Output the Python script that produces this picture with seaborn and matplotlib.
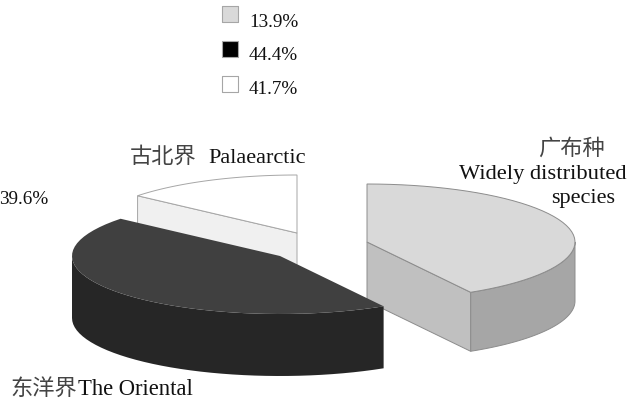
import numpy as np
import pandas as pd
import matplotlib
matplotlib.use("Agg")
import matplotlib.pyplot as plt
import seaborn as sns

# Shares as printed in the key, in key order
key_labels = ["13.9%", "44.4%", "41.7%"]
key_colors = ["#D9D9D9", "#000000", "#FFFFFF"]

# Slices, clockwise from twelve o'clock
slice_names = ["Widely distributed species", "The Oriental", "Palaearctic"]
slice_shares = [41.7, 44.4, 13.9]

sns.set_theme(style="white")
SERIF = ["Liberation Serif", "Noto Sans CJK SC"]

W, H = 637, 401
fig = plt.figure(figsize=(W / 100, H / 100), dpi=100, facecolor="white")
ax = fig.add_axes([0, 0, 1, 1])

# Projection of the tilted pie
RX, RY = 208, 58
centres = [(367, 242), (280, 256), (297, 233)]
depths = [59, 62, 60]
styles = [
    dict(top="#D9D9D9", radial="#C0C0C0", rim="#A6A6A6", edge="#8C8C8C"),
    dict(top="#404040", radial="#262626", rim="#262626", edge="none"),
    dict(top="#FFFFFF", radial="#F0F0F0", rim="#F0F0F0", edge="#A6A6A6"),
]


def project(theta, centre):
    """Map a clockwise angle from the top onto the tilted ellipse."""
    return (centre[0] + RX * np.sin(theta),
            centre[1] - RY * np.cos(theta))


def draw_cut(angle, centre, depth, style, z):
    px, py = project(np.radians(angle), centre)
    ax.fill([centre[0], px, px, centre[0]],
            [centre[1], py, py + depth, centre[1] + depth],
            fc=style["radial"], ec=style["edge"], lw=0.7, zorder=z)


def draw_slice(start, stop, centre, depth, style, z):
    # Outer rim, only where it faces the viewer
    lo, hi = max(start, 90), min(stop, 270)
    if lo < hi:
        fx, fy = project(np.radians(np.linspace(lo, hi, 40)), centre)
        ax.fill(np.r_[fx, fx[::-1]], np.r_[fy, fy[::-1] + depth],
                fc=style["rim"], ec=style["edge"], lw=0.7, zorder=z)

    # A cut face is visible when its outward normal points down the screen
    if 180 < start < 360:
        draw_cut(start, centre, depth, style, z)
    if 0 < stop < 180:
        draw_cut(stop, centre, depth, style, z)

    # Top face
    tx, ty = project(np.radians(np.linspace(start, stop, 48)), centre)
    ax.fill(np.r_[centre[0], tx], np.r_[centre[1], ty],
            fc=style["top"], ec=style["edge"], lw=0.7, zorder=z + 0.5)


bounds = np.r_[0, np.cumsum(slice_shares)] * 3.6
for z, idx in enumerate((2, 0, 1), start=2):
    draw_slice(bounds[idx], bounds[idx + 1], centres[idx], depths[idx], styles[idx], z)

# Key swatches
key = pd.DataFrame({"x": [230, 230, 230], "y": [14, 49, 84], "label": key_labels})
sns.scatterplot(data=key, x="x", y="y", hue="label", palette=dict(zip(key_labels, key_colors)),
                marker="s", s=125, edgecolor="#A6A6A6", linewidth=0.8, legend=False, ax=ax, zorder=6)
for y, label in zip((27, 60, 94), key_labels):
    ax.text(249, y, label, fontsize=13.8, family=SERIF, color="#111111", va="baseline")

# Slice captions; the Chinese runs are set lighter to keep their strokes thin
captions = [
    (130, 163, "古北界", 16, "#444444"),
    (208, 163, "Palaearctic", 16, "#111111"),
    (538, 155, "广布种", 16, "#444444"),
    (459, 179, "Widely distributed", 16.2, "#111111"),
    (551, 203, "species", 16, "#111111"),
    (10, 395, "东洋界", 16, "#444444"),
    (78, 395, "The Oriental", 16.3, "#111111"),
    (-1, 204, "39.6%", 13.8, "#111111"),
]
for x, y, text, size, colour in captions:
    ax.text(x, y, text, fontsize=size, family=SERIF, color=colour, va="baseline", zorder=8)

ax.set_xlim(0, W)
ax.set_ylim(H, 0)
ax.set_axis_off()
fig.savefig("out.png", dpi=100, facecolor="white")
